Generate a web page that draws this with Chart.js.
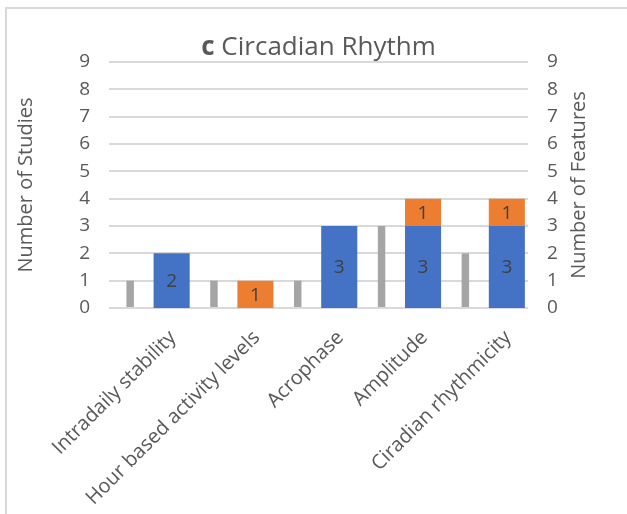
<!DOCTYPE html>
<html>
<head>
<meta charset="utf-8">
<script src="https://cdn.jsdelivr.net/npm/chart.js@4"></script>
<style>
    html, body { margin: 0; padding: 0; background: #fff; }
    #wrap { position: relative; width: 627px; height: 514px; overflow: hidden; }
    #frame {
        position: absolute; left: 5px; top: 7px; width: 640px; height: 520px;
        border-left: 2px solid #d9d9d9; border-top: 2px solid #d9d9d9;
    }
    #chart { position: absolute; left: 0; top: 0; }
</style>
</head>
<body>
<div id="wrap">
    <div id="frame"></div>
    <canvas id="chart" width="627" height="514"></canvas>
</div>
<script>
// categories and counts
const categories = ['Intradaily stability', 'Hour based activity levels', 'Acrophase', 'Amplitude', 'Ciradian rhythmicity'];
const studyCounts = [1, 1, 1, 3, 2];
const featureCountsA = [2, 0, 3, 3, 3];
const featureCountsB = [0, 1, 0, 1, 1];
const yMin = 0;
const yMax = 9;
const titleLead = 'c';
const titleText = 'Circadian Rhythm';

const FONT = '"Open Sans", "Noto Sans", sans-serif';
const TEXT_COLOR = '#595959';

// title with a bold panel letter
const panelTitle = {
    id: 'panelTitle',
    afterDraw(chart) {
        const { ctx, chartArea } = chart;
        ctx.save();
        ctx.fillStyle = TEXT_COLOR;
        ctx.textBaseline = 'alphabetic';
        ctx.font = `700 26px ${FONT}`;
        const w1 = ctx.measureText(titleLead).width;
        ctx.font = `400 26px ${FONT}`;
        const w2 = ctx.measureText(' ' + titleText).width;
        let x = (chartArea.left + chartArea.right) / 2 - (w1 + w2) / 2;
        ctx.font = `700 26px ${FONT}`;
        ctx.fillText(titleLead, x, 55);
        ctx.font = `400 26px ${FONT}`;
        ctx.fillText(' ' + titleText, x + w1, 55);
        ctx.restore();
    }
};

// right axis title, reading bottom to top like the left one
const rightAxisTitle = {
    id: 'rightAxisTitle',
    afterDraw(chart) {
        const { ctx, chartArea } = chart;
        ctx.save();
        ctx.translate(579, (chartArea.top + chartArea.bottom) / 2);
        ctx.rotate(-Math.PI / 2);
        ctx.font = `400 20px ${FONT}`;
        ctx.fillStyle = TEXT_COLOR;
        ctx.textAlign = 'center';
        ctx.textBaseline = 'middle';
        ctx.fillText('Number of Features', 0, 0);
        ctx.restore();
    }
};

// value labels in the middle of the feature bars
const barValues = {
    id: 'barValues',
    afterDatasetsDraw(chart) {
        const { ctx } = chart;
        ctx.save();
        ctx.font = `400 19px ${FONT}`;
        ctx.fillStyle = '#404040';
        ctx.textAlign = 'center';
        ctx.textBaseline = 'middle';
        [1, 2].forEach(di => {
            const meta = chart.getDatasetMeta(di);
            const values = chart.data.datasets[di].data;
            meta.data.forEach((bar, i) => {
                if (!values[i]) return;
                ctx.fillText(String(values[i]), bar.x, (bar.y + bar.base) / 2 + 1);
            });
        });
        ctx.restore();
    }
};

const tickFont = { family: FONT, size: 19 };

new Chart(document.getElementById('chart'), {
    type: 'bar',
    data: {
        labels: categories,
        datasets: [
            {
                label: 'Studies',
                data: studyCounts,
                backgroundColor: '#a5a5a5',
                yAxisID: 'y',
                stack: 'studies',
                barPercentage: 0.18,
                categoryPercentage: 0.99
            },
            {
                label: 'Features A',
                data: featureCountsA,
                backgroundColor: '#4472c4',
                yAxisID: 'y2',
                stack: 'features',
                barPercentage: 0.87,
                categoryPercentage: 0.99
            },
            {
                label: 'Features B',
                data: featureCountsB,
                backgroundColor: '#ed7d31',
                yAxisID: 'y2',
                stack: 'features',
                barPercentage: 0.87,
                categoryPercentage: 0.99
            }
        ]
    },
    options: {
        responsive: false,
        animation: false,
        layout: { padding: { top: 62, left: 0, right: 0, bottom: 6 } },
        plugins: {
            legend: { display: false },
            tooltip: { enabled: false },
            title: { display: false }
        },
        scales: {
            x: {
                grid: { display: false, drawTicks: false },
                border: { display: false },
                ticks: {
                    color: TEXT_COLOR,
                    font: { family: FONT, size: 20 },
                    minRotation: 45,
                    maxRotation: 45,
                    autoSkip: false,
                    labelOffset: 22,
                    padding: 18
                },
                afterFit(scale) { scale.height = 200; }
            },
            y: {
                position: 'left',
                min: yMin,
                max: yMax,
                grid: { color: '#d9d9d9', lineWidth: 2, drawTicks: false },
                border: { display: false },
                ticks: { stepSize: 1, color: TEXT_COLOR, font: tickFont, padding: 19 },
                title: {
                    display: true,
                    text: 'Number of Studies',
                    color: TEXT_COLOR,
                    font: { family: FONT, size: 20 },
                    padding: { top: 14, bottom: 0 }
                },
                afterFit(scale) { scale.width = 109; }
            },
            y2: {
                position: 'right',
                min: yMin,
                max: yMax,
                grid: { display: false, drawTicks: false },
                border: { display: false },
                ticks: { stepSize: 1, color: TEXT_COLOR, font: tickFont, padding: 19 },
                afterFit(scale) { scale.width = 99; }
            }
        }
    },
    plugins: [panelTitle, rightAxisTitle, barValues]
});
</script>
</body>
</html>
